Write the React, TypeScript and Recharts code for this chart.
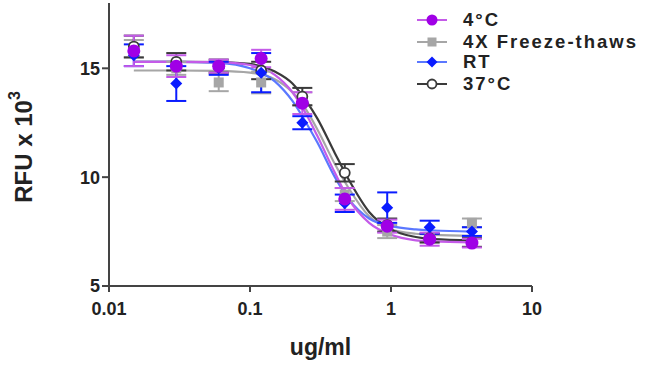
import React from 'react';
import { ComposedChart, XAxis, YAxis, Scatter, Line, ErrorBar } from 'recharts';

const concentrations = [0.015, 0.03, 0.06, 0.12, 0.235, 0.47, 0.94, 1.88, 3.75];
const c4Values = [15.8, 15.1, 15.1, 15.45, 13.4, 9.0, 7.75, 7.15, 6.97];
const c4Err = [0.7, 0.5, 0.3, 0.4, 0.5, 0.5, 0.3, 0.3, 0.2];
const ftValues = [15.9, 15.0, 14.35, 14.35, 13.6, 9.2, 7.5, 7.2, 7.9];
const ftErr = [0.4, 0.3, 0.4, 0.5, 0.3, 0.3, 0.3, 0.2, 0.2];
const rtValues = [15.6, 14.3, 15.0, 14.8, 12.5, 8.8, 8.6, 7.7, 7.5];
const rtErr = [0.5, 0.8, 0.3, 0.9, 0.3, 0.4, 0.7, 0.3, 0.2];
const c37Values = [16.0, 15.3, 15.1, 14.9, 13.7, 10.2, 7.8, 7.2, 7.0];
const c37Err = [0.5, 0.4, 0.3, 0.4, 0.4, 0.4, 0.3, 0.2, 0.2];

const curveX = [0.015, 0.03, 0.06, 0.1, 0.15, 0.2, 0.25, 0.3, 0.4, 0.5, 0.7, 1, 1.5, 2, 3.75];
const c4Curve = [15.3, 15.3, 15.28, 15.15, 14.7, 13.9, 12.9, 11.9, 10.2, 9.0, 7.9, 7.35, 7.1, 7.05, 7.0];
const c37Curve = [15.3, 15.3, 15.28, 15.2, 14.85, 14.3, 13.5, 12.7, 11.1, 9.9, 8.4, 7.6, 7.25, 7.15, 7.1];
const rtCurve = [15.3, 15.3, 15.25, 15.0, 14.4, 13.5, 12.5, 11.6, 10.0, 9.0, 8.1, 7.75, 7.6, 7.55, 7.5];
const ftCurve = [14.9, 14.9, 14.88, 14.8, 14.5, 13.9, 13.1, 12.2, 10.6, 9.5, 8.2, 7.6, 7.4, 7.35, 7.3];

const xTicks = [0.01, 0.1, 1, 10];
const yTicks = [5, 10, 15];
const legendLabels = ['4\u00B0C', '4X Freeze-thaws', 'RT', '37\u00B0C'];

const toPoints = (vals: number[], errs: number[]) =>
  concentrations.map((x, i) => ({ x, y: vals[i], e: errs[i] }));
const toCurve = (vals: number[]) => curveX.map((x, i) => ({ x, y: vals[i] }));

const PURPLE = '#a000e6';
const PURPLE_LINE = '#c45be8';
const GRAY = '#a6a6a6';
const BLUE = '#0a1cff';
const BLUE_LINE = '#5b78ff';
const BLACK = '#3a3a3a';
const FONT = '"Liberation Sans", Arial, sans-serif';

const CircleShape = (p: any) => <circle cx={p.cx} cy={p.cy} r={6.5} fill={PURPLE} />;
const SquareShape = (p: any) => <rect x={p.cx - 5} y={p.cy - 5} width={10} height={10} fill={GRAY} />;
const DiamondShape = (p: any) => (
  <polygon points={`${p.cx},${p.cy - 6} ${p.cx + 6},${p.cy} ${p.cx},${p.cy + 6} ${p.cx - 6},${p.cy}`} fill={BLUE} />
);
const OpenCircleShape = (p: any) => (
  <circle cx={p.cx} cy={p.cy} r={5} fill="#fff" stroke={BLACK} strokeWidth={1.8} />
);

const legendItems = [
  { label: legendLabels[0], color: PURPLE_LINE, kind: 'circle' },
  { label: legendLabels[1], color: GRAY, kind: 'square' },
  { label: legendLabels[2], color: BLUE_LINE, kind: 'diamond' },
  { label: legendLabels[3], color: BLACK, kind: 'open' },
];

const LegendBox = () => (
  <svg width={250} height={100} style={{ position: 'absolute', left: 400, top: 0, display: 'block' }}>
    {legendItems.map((it, i) => {
      const y = [20, 42, 62, 84][i];
      const cx = 32;
      let marker: React.ReactNode = null;
      if (it.kind === 'circle') marker = <circle cx={cx} cy={y} r={5.5} fill={PURPLE} />;
      if (it.kind === 'square') marker = <rect x={cx - 4.5} y={y - 4.5} width={9} height={9} fill={GRAY} />;
      if (it.kind === 'diamond')
        marker = <polygon points={`${cx},${y - 5.5} ${cx + 5.5},${y} ${cx},${y + 5.5} ${cx - 5.5},${y}`} fill={BLUE} />;
      if (it.kind === 'open') marker = <circle cx={cx} cy={y} r={4.5} fill="#fff" stroke={BLACK} strokeWidth={1.8} />;
      return (
        <g key={i}>
          <line x1={17} x2={47} y1={y} y2={y} stroke={it.color} strokeWidth={2} />
          {marker}
          <text x={63} y={y} dy="0.35em" fontFamily={FONT} fontWeight="bold" fontSize={18.5} letterSpacing={2} fill="#222">
            {it.label}
          </text>
        </g>
      );
    })}
  </svg>
);

const YLabel = () => {
  const cx = 23;
  const cy = 147;
  return (
    <text
      x={cx}
      y={cy}
      transform={`rotate(-90, ${cx}, ${cy})`}
      textAnchor="middle"
      dominantBaseline="central"
      fontFamily={FONT}
      fontWeight="bold"
      fontSize={24}
      fill="#222"
    >
      RFU x 10
      <tspan dy={-9} fontSize={16}>3</tspan>
    </text>
  );
};

export default function App() {
  return (
    <div style={{ position: 'absolute', left: 0, top: 0, width: 650, height: 367, background: '#fff' }}>
      <ComposedChart width={650} height={367} margin={{ top: 3, right: 118, bottom: 0, left: 0 }}>
        <XAxis
          dataKey="x"
          type="number"
          scale="log"
          domain={[0.01, 10]}
          ticks={xTicks}
          allowDataOverflow
          height={81}
          tickSize={6}
          tickMargin={10}
          axisLine={{ stroke: '#444', strokeWidth: 2 }}
          tickLine={{ stroke: '#444', strokeWidth: 2 }}
          tick={{ fontFamily: FONT, fontWeight: 'bold', fontSize: 18, fill: '#222' }}
          tickFormatter={(v: number) => String(v)}
          label={{ value: 'ug/ml', position: 'insideBottom', offset: 12, fontFamily: FONT, fontWeight: 'bold', fontSize: 23, fill: '#222' }}
        />
        <YAxis
          dataKey="y"
          type="number"
          domain={[5, 18]}
          ticks={yTicks}
          width={109}
          tickSize={7}
          tickMargin={2}
          axisLine={{ stroke: '#444', strokeWidth: 2 }}
          tickLine={{ stroke: '#444', strokeWidth: 2 }}
          tick={{ fontFamily: FONT, fontWeight: 'bold', fontSize: 18, fill: '#222' }}
          label={<YLabel />}
        />
        <Line data={toCurve(ftCurve)} dataKey="y" type="monotone" stroke={GRAY} strokeWidth={2.2} dot={false} isAnimationActive={false} />
        <Line data={toCurve(c37Curve)} dataKey="y" type="monotone" stroke={BLACK} strokeWidth={2.2} dot={false} isAnimationActive={false} />
        <Line data={toCurve(rtCurve)} dataKey="y" type="monotone" stroke={BLUE_LINE} strokeWidth={2.2} dot={false} isAnimationActive={false} />
        <Line data={toCurve(c4Curve)} dataKey="y" type="monotone" stroke={PURPLE_LINE} strokeWidth={2.2} dot={false} isAnimationActive={false} />
        <Scatter data={toPoints(ftValues, ftErr)} dataKey="y" shape={SquareShape} isAnimationActive={false}>
          <ErrorBar dataKey="e" direction="y" width={10} stroke={GRAY} strokeWidth={2} />
        </Scatter>
        <Scatter data={toPoints(c37Values, c37Err)} dataKey="y" shape={OpenCircleShape} isAnimationActive={false}>
          <ErrorBar dataKey="e" direction="y" width={10} stroke={BLACK} strokeWidth={2} />
        </Scatter>
        <Scatter data={toPoints(rtValues, rtErr)} dataKey="y" shape={DiamondShape} isAnimationActive={false}>
          <ErrorBar dataKey="e" direction="y" width={10} stroke={BLUE} strokeWidth={2} />
        </Scatter>
        <Scatter data={toPoints(c4Values, c4Err)} dataKey="y" shape={CircleShape} isAnimationActive={false}>
          <ErrorBar dataKey="e" direction="y" width={10} stroke={PURPLE_LINE} strokeWidth={2} />
        </Scatter>
      </ComposedChart>
      <LegendBox />
    </div>
  );
}
